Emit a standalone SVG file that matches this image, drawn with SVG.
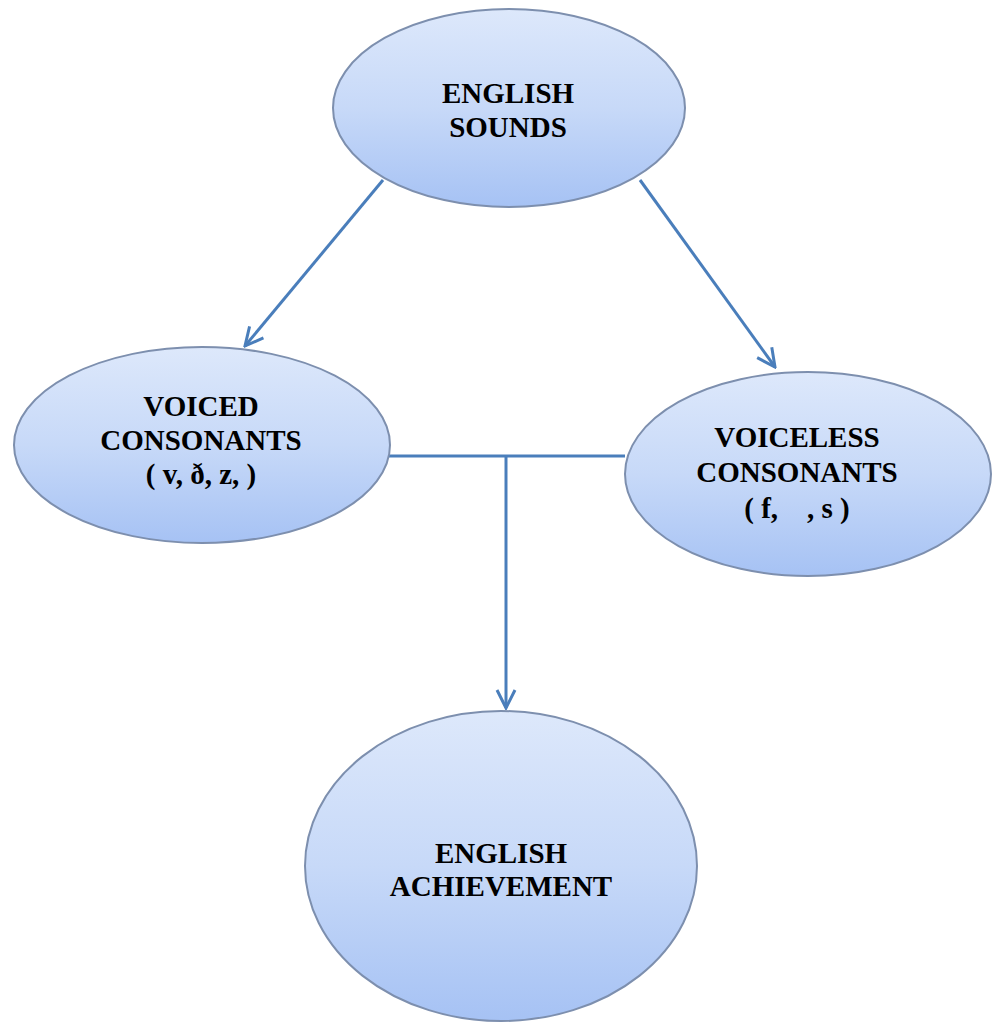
<svg xmlns="http://www.w3.org/2000/svg" width="998" height="1024" viewBox="0 0 998 1024">
<defs>
<linearGradient id="g" x1="0" y1="0" x2="0" y2="1">
<stop offset="0" stop-color="#dde8fb"/>
<stop offset="0.5" stop-color="#c7d9f8"/>
<stop offset="1" stop-color="#a6c2f4"/>
</linearGradient>
<marker id="ah" viewBox="0 0 22 22" refX="20" refY="11" markerWidth="22" markerHeight="22" markerUnits="userSpaceOnUse" orient="auto">
<path d="M2,2 L20,11 L2,20" fill="none" stroke="#4a7ebb" stroke-width="3"/>
</marker>
</defs>
<style>
.n{fill:url(#g);stroke:#7d8fae;stroke-width:2}
.t{font-family:"Liberation Serif","Times New Roman",serif;font-weight:bold;font-size:29px;fill:#000;text-anchor:middle}
.c{fill:none;stroke:#4a7ebb;stroke-width:3}
</style>
<rect width="998" height="1024" fill="#fff"/>
<g id="connectors">
<line class="c" x1="383" y1="180" x2="245" y2="346" marker-end="url(#ah)"/>
<line class="c" x1="640" y1="180" x2="775" y2="367" marker-end="url(#ah)"/>
<polyline class="c" points="386,456 625,456"/>
<line class="c" x1="506" y1="456" x2="506" y2="708" marker-end="url(#ah)"/>
</g>
<g id="english-sounds">
<ellipse class="n" cx="509" cy="108" rx="176" ry="99"/>
<text class="t" x="508" y="103">ENGLISH</text>
<text class="t" x="508" y="137">SOUNDS</text>
</g>
<g id="voiced">
<ellipse class="n" cx="202" cy="445" rx="188" ry="98"/>
<text class="t" x="201" y="416">VOICED</text>
<text class="t" x="201" y="450">CONSONANTS</text>
<text class="t" x="201" y="484">( v, ð, z, )</text>
</g>
<g id="voiceless">
<ellipse class="n" cx="808" cy="474" rx="183" ry="102"/>
<text class="t" x="797" y="447">VOICELESS</text>
<text class="t" x="797" y="482">CONSONANTS</text>
<text class="t" x="797" y="518" xml:space="preserve">( f,    , s )</text>
</g>
<g id="english-achievement">
<ellipse class="n" cx="501" cy="866" rx="196" ry="155"/>
<text class="t" x="501" y="863">ENGLISH</text>
<text class="t" x="501" y="896">ACHIEVEMENT</text>
</g>
</svg>
